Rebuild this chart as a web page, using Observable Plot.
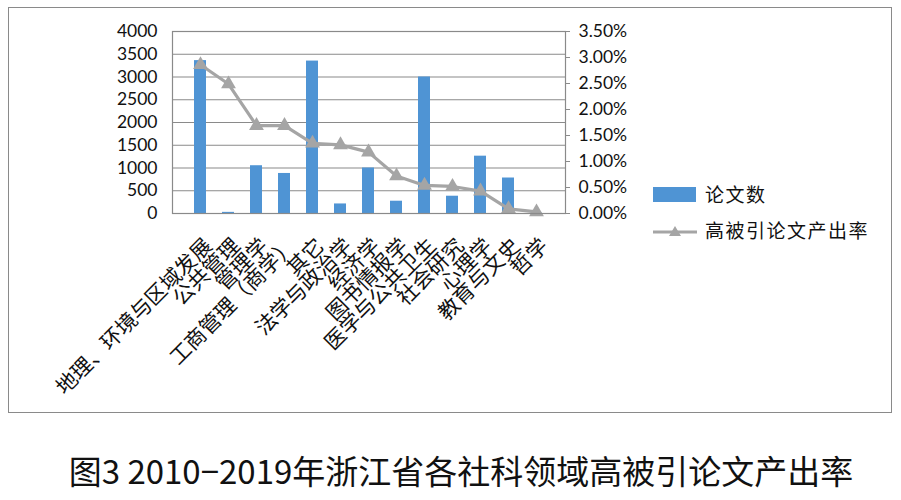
<!DOCTYPE html>
<html>
<head>
<meta charset="utf-8">
<script src="https://cdn.jsdelivr.net/npm/d3@7"></script>
<script src="https://cdn.jsdelivr.net/npm/@observablehq/plot@0.6"></script>
<style>
  html, body { margin: 0; padding: 0; background: #fff; }
  #wrap { position: relative; width: 901px; height: 500px; overflow: hidden; }
  #border { position: absolute; left: 8px; top: 7px; width: 884px; height: 406px; border: 1.5px solid #8a8a8a; box-sizing: border-box; }
  #chart { position: absolute; left: 0; top: 0; }
  .leg { position: absolute; font-family: "Noto Sans CJK SC", sans-serif; font-size: 19px; color: #111; letter-spacing: 1.5px; line-height: 1; }
  #title { position: absolute; left: 0; width: 922px; top: 452px; text-align: center; font-family: "Noto Sans CJK SC", sans-serif; font-size: 33px; color: #111; line-height: 1.1; }
</style>
</head>
<body>
<div id="wrap">
  <div id="border"></div>
  <div id="chart"></div>
  <div class="leg" style="left:653px; top:187px; width:43px; height:15px; background:#4F94D4;"></div>
  <div class="leg" style="left:705px; top:184px;">论文数</div>
  <svg class="leg" style="left:650px; top:222px;" width="50" height="20">
    <line x1="3" y1="10" x2="47" y2="10" stroke="#A5A5A5" stroke-width="3"/>
    <path d="M25,4 L31,14 L19,14 Z" fill="#A5A5A5"/>
  </svg>
  <div class="leg" style="left:705px; top:220px;">高被引论文产出率</div>
  <div id="title">图3 2010−2019年浙江省各社科领域高被引论文产出率</div>
</div>
<script>
const categories = ["地理、环境与区域发展", "公共管理", "管理学", "工商管理（商学）", "其它", "法学与政治学", "经济学", "图书情报学", "医学与公共卫生", "社会研究", "心理学", "教育与文史", "哲学"];
const counts = [3360, 25, 1050, 880, 3350, 210, 1000, 270, 3000, 380, 1260, 780, 8];
const rates = [2.86, 2.49, 1.69, 1.69, 1.35, 1.32, 1.18, 0.72, 0.54, 0.52, 0.43, 0.09, 0.03]; // percent
const leftTicks = [0, 500, 1000, 1500, 2000, 2500, 3000, 3500, 4000];
const rightTicks = [0, 0.5, 1, 1.5, 2, 2.5, 3, 3.5]; // percent
const leftMax = 4000;
const rightMax = 3.5;

const data = categories.map((c, i) => ({cat: c, count: counts[i], rate: rates[i]}));
const toLeft = r => r / rightMax * leftMax;

const chart = Plot.plot({
  width: 901,
  height: 420,
  marginLeft: 172,
  marginRight: 336,
  marginTop: 31,
  marginBottom: 207,
  style: {background: "transparent", color: "#111", fontFamily: "Lato, sans-serif"},
  x: {domain: categories, padding: 0.57, axis: null},
  y: {domain: [0, leftMax], axis: null, label: null},
  marks: [
    Plot.gridY(leftTicks, {stroke: "#8a8a8a", strokeOpacity: 1, strokeWidth: 1.2}),
    Plot.barY(data, {x: "cat", y: "count", fill: "#4F94D4"}),
    Plot.line(data, {x: "cat", y: d => toLeft(d.rate), stroke: "#A5A5A5", strokeWidth: 3.2}),
    Plot.dot(data, {x: "cat", y: d => toLeft(d.rate), symbol: "triangle", fill: "#A5A5A5", r: 5.5}),
    Plot.frame({stroke: "#8a8a8a", strokeWidth: 1.2}),
    Plot.axisY({ticks: leftTicks, tickSize: 0, tickPadding: 15, fontSize: 17.5, tickFormat: d => String(d), label: null}),
    Plot.axisY({anchor: "right", ticks: rightTicks.map(toLeft), tickSize: 4, tickPadding: 9, fontSize: 17.5, stroke: "#8a8a8a", tickFormat: d => (Math.round(d / leftMax * rightMax * 100) / 100).toFixed(2) + "%", label: null}),
    Plot.text(categories, {x: d => d, frameAnchor: "bottom", rotate: -45, textAnchor: "end", lineAnchor: "middle", dx: 8, dy: 29, fontSize: 21, fontFamily: "Noto Sans CJK SC, sans-serif", fill: "#111"})
  ]
});
document.getElementById("chart").appendChild(chart);
</script>
</body>
</html>
